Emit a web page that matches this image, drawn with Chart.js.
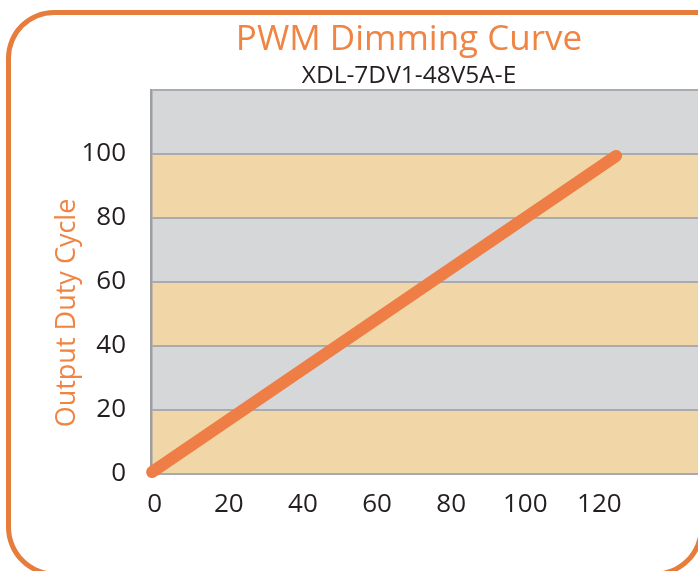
<!DOCTYPE html>
<html><head><meta charset="utf-8">
<script src="https://cdn.jsdelivr.net/npm/chart.js@4"></script>
<style>
html,body{margin:0;padding:0;width:698px;height:571px;overflow:hidden;background:#fff;}
#frame{position:absolute;left:6px;top:10px;width:698px;height:567px;box-sizing:border-box;border:5px solid #e77d3c;border-radius:48px 4px 50px 50px;}
#wrap{position:absolute;left:0;top:0;width:818px;height:571px;}
</style></head><body>
<div id="frame"></div>
<div id="wrap"><canvas id="c" width="818" height="571"></canvas></div>
<script>
const titleText = 'PWM Dimming Curve';
const subtitleText = 'XDL-7DV1-48V5A-E';
const yAxisTitle = 'Output Duty Cycle';
const xTickLabels = [0, 20, 40, 60, 80, 100, 120];
const yTickLabels = [0, 20, 40, 60, 80, 100];
const yGridValues = [0, 20, 40, 60, 80, 100, 120];
const bandEdges = [0, 20, 40, 60, 80, 100, 120];
const bandColors = ['#f1d6a8', '#d6d7d9', '#f1d6a8', '#d6d7d9', '#f1d6a8', '#d6d7d9'];
const curveX = [-0.7, 124.5];
const curveY = [0.6, 99.4];

const ink = '#231f20';
const orange = '#ef8443';
const tickFont = {family: 'Open Sans', size: 26};

const bands = {
  id: 'bands',
  beforeDraw(chart) {
    const {ctx, chartArea: a, scales: {y}} = chart;
    ctx.save();
    for (let i = 0; i < bandEdges.length - 1; i++) {
      const t = y.getPixelForValue(bandEdges[i + 1]);
      const b = y.getPixelForValue(bandEdges[i]);
      ctx.fillStyle = bandColors[i];
      ctx.fillRect(a.left, t, a.right - a.left, b - t);
    }
    ctx.restore();
  }
};

const yTitle = {
  id: 'yTitle',
  afterDraw(chart) {
    const {ctx} = chart;
    ctx.save();
    ctx.translate(67, 313);
    ctx.rotate(-Math.PI / 2);
    ctx.font = '27px "Open Sans"';
    ctx.fillStyle = orange;
    ctx.textAlign = 'center';
    ctx.textBaseline = 'middle';
    ctx.fillText(yAxisTitle, 0, 0);
    ctx.restore();
  }
};

new Chart(document.getElementById('c'), {
  type: 'scatter',
  data: {
    datasets: [{
      data: curveX.map((x, i) => ({x, y: curveY[i]})),
      showLine: true,
      borderColor: '#ee7e46',
      borderWidth: 12,
      borderCapStyle: 'round',
      pointRadius: 0,
      clip: false,
      tension: 0
    }]
  },
  options: {
    responsive: false,
    animation: false,
    devicePixelRatio: 1,
    layout: {padding: 0},
    plugins: {
      legend: {display: false},
      tooltip: {enabled: false},
      title: {display: true, text: titleText, color: orange,
        font: {family: 'Open Sans', size: 35, weight: 'normal', lineHeight: 1.2},
        padding: {top: 19, bottom: 0}},
      subtitle: {display: true, text: subtitleText, color: ink,
        font: {family: 'Open Sans', size: 24.5, weight: 'normal', lineHeight: 1.0},
        padding: {top: 3, bottom: 1.5}}
    },
    scales: {
      x: {
        type: 'linear', min: -1, max: 179,
        afterBuildTicks: s => { s.ticks = xTickLabels.map(v => ({value: v})); },
        afterFit: s => { s.height = 97; },
        grid: {display: false, drawTicks: false},
        border: {display: true, color: '#a7a9ac', width: 2},
        ticks: {color: ink, font: tickFont, padding: 15, maxRotation: 0, autoSkip: false}
      },
      y: {
        type: 'linear', min: 0, max: 120,
        afterBuildTicks: s => { s.ticks = yGridValues.map(v => ({value: v})); },
        afterFit: s => { s.width = 151; },
        grid: {color: '#a9abae', lineWidth: 2, drawTicks: false},
        border: {display: true, color: '#9c9ea1', width: 2.5},
        ticks: {color: ink, font: tickFont, padding: 25, autoSkip: false,
          callback: v => yTickLabels.includes(v) ? String(v) : ''},
        title: {display: false, text: yAxisTitle}
      }
    }
  },
  plugins: [bands, yTitle]
});
</script>
</body></html>
